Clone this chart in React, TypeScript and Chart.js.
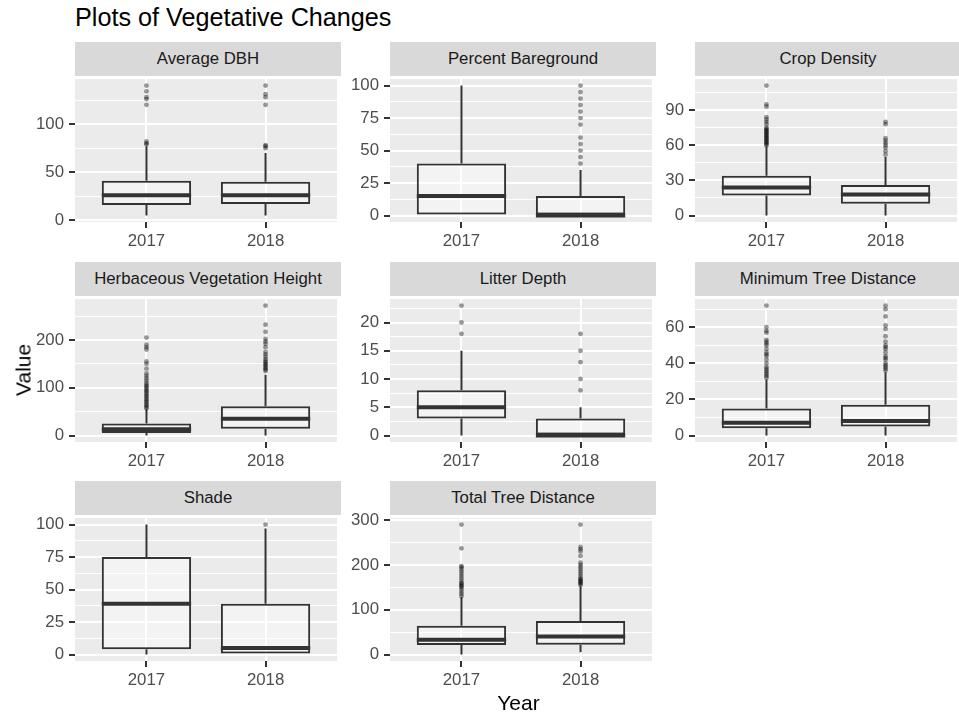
import React, { useEffect, useRef } from "react";
import { Chart, registerables } from "chart.js";

Chart.register(...registerables);

// ---------------- data ----------------
const YEARS = ["2017", "2018"];

const PANEL_TITLES = [
  "Average DBH",
  "Percent Bareground",
  "Crop Density",
  "Herbaceous Vegetation Height",
  "Litter Depth",
  "Minimum Tree Distance",
  "Shade",
  "Total Tree Distance",
];

// five-number summaries: [lower whisker, Q1, median, Q3, upper whisker]
const DBH_2017 = [5, 16, 26, 41, 77];
const DBH_2018 = [5, 17, 26, 40, 70];
const DBH_OUT_2017 = [79, 80, 82, 120, 126, 128, 134, 140];
const DBH_OUT_2018 = [75, 77, 78, 120, 128, 131, 140];

const BARE_2017 = [0, 0, 15, 40, 100];
const BARE_2018 = [0, 0, 0, 15, 35];
const BARE_OUT_2017: number[] = [];
const BARE_OUT_2018 = [40, 45, 50, 55, 60, 70, 75, 80, 85, 90, 95, 100];

const CROP_2017 = [0, 17, 24, 34, 59];
const CROP_2018 = [0, 10, 18, 26, 50];
const CROP_OUT_2017 = [60, 61, 62, 63, 64, 65, 66, 67, 68, 69, 70, 71, 72, 73, 74, 75, 78, 80, 82, 84, 93, 95, 111];
const CROP_OUT_2018 = [52, 55, 58, 60, 62, 64, 66, 78, 80];

const HERB_2017 = [0, 5, 13, 25, 55];
const HERB_2018 = [0, 14, 35, 61, 127];
const HERB_OUT_2017 = [57, 60, 63, 66, 70, 73, 76, 80, 83, 86, 90, 93, 96, 100, 103, 106, 110, 115, 120, 125, 130, 140, 150, 155, 180, 185, 190, 205];
const HERB_OUT_2018 = [135, 138, 141, 144, 147, 150, 153, 156, 160, 165, 170, 175, 185, 192, 197, 202, 217, 232, 272];

const LITTER_2017 = [0, 3, 5, 8, 15];
const LITTER_2018 = [0, 0, 0, 3, 5];
const LITTER_OUT_2017 = [18, 20, 23];
const LITTER_OUT_2018 = [8, 10, 13, 15, 18];

const MINTREE_2017 = [0, 4, 7, 15, 31];
const MINTREE_2018 = [0, 5, 8, 17, 35];
const MINTREE_OUT_2017 = [32, 33, 34, 35, 36, 37, 38, 40, 42, 44, 45, 46, 48, 50, 51, 52, 53, 57, 58, 60, 72];
const MINTREE_OUT_2018 = [36, 37, 38, 39, 40, 42, 43, 44, 46, 48, 49, 50, 52, 55, 59, 61, 66, 70, 72];

const SHADE_2017 = [0, 4, 39, 75, 100];
const SHADE_2018 = [0, 0, 5, 39, 97];
const SHADE_OUT_2017: number[] = [];
const SHADE_OUT_2018 = [100];

const TOTAL_2017 = [0, 21, 33, 64, 128];
const TOTAL_2018 = [5, 22, 40, 75, 152];
const TOTAL_OUT_2017 = [130, 135, 140, 145, 150, 152, 155, 158, 160, 165, 170, 175, 180, 185, 190, 195, 197, 237, 290];
const TOTAL_OUT_2018 = [155, 158, 160, 163, 165, 168, 170, 175, 180, 185, 190, 195, 200, 205, 220, 230, 235, 240, 290];

// y-axis tick labels (major breaks)
const DBH_BREAKS = [0, 50, 100];
const BARE_BREAKS = [0, 25, 50, 75, 100];
const CROP_BREAKS = [0, 30, 60, 90];
const HERB_BREAKS = [0, 100, 200];
const LITTER_BREAKS = [0, 5, 10, 15, 20];
const MINTREE_BREAKS = [0, 20, 40, 60];
const SHADE_BREAKS = [0, 25, 50, 75, 100];
const TOTAL_BREAKS = [0, 100, 200, 300];

const PANELS = [
  { title: PANEL_TITLES[0], stats: [DBH_2017, DBH_2018], out: [DBH_OUT_2017, DBH_OUT_2018], breaks: DBH_BREAKS },
  { title: PANEL_TITLES[1], stats: [BARE_2017, BARE_2018], out: [BARE_OUT_2017, BARE_OUT_2018], breaks: BARE_BREAKS },
  { title: PANEL_TITLES[2], stats: [CROP_2017, CROP_2018], out: [CROP_OUT_2017, CROP_OUT_2018], breaks: CROP_BREAKS },
  { title: PANEL_TITLES[3], stats: [HERB_2017, HERB_2018], out: [HERB_OUT_2017, HERB_OUT_2018], breaks: HERB_BREAKS },
  { title: PANEL_TITLES[4], stats: [LITTER_2017, LITTER_2018], out: [LITTER_OUT_2017, LITTER_OUT_2018], breaks: LITTER_BREAKS },
  { title: PANEL_TITLES[5], stats: [MINTREE_2017, MINTREE_2018], out: [MINTREE_OUT_2017, MINTREE_OUT_2018], breaks: MINTREE_BREAKS },
  { title: PANEL_TITLES[6], stats: [SHADE_2017, SHADE_2018], out: [SHADE_OUT_2017, SHADE_OUT_2018], breaks: SHADE_BREAKS },
  { title: PANEL_TITLES[7], stats: [TOTAL_2017, TOTAL_2018], out: [TOTAL_OUT_2017, TOTAL_OUT_2018], breaks: TOTAL_BREAKS },
];

// ---------------- layout / style ----------------
const FONT = '"Liberation Sans", Arial, Helvetica, sans-serif';
const COL_LEFT = [75, 390, 695];
const STRIP_TOP = [42, 262, 481];
const STRIP_H = 34;
const PANEL_W = 266;
const PANEL_H = 146;
const AX = 72; // room for y tick labels
const PADT = 12;
const BX = 34; // room for x tick labels
const CW = AX + PANEL_W;
const CH = PADT + PANEL_H + BX;
const BOX_HALF = 0.375;
const TICK_FONT = { family: FONT, size: 16.8 };
const TICK_COLOR = "#4D4D4D";
const LINE_COLOR = "#333333";

const panelBg = {
  id: "panelBg",
  beforeDraw(chart: any) {
    const { ctx, chartArea } = chart;
    ctx.save();
    ctx.fillStyle = "#EBEBEB";
    ctx.fillRect(chartArea.left, chartArea.top, chartArea.right - chartArea.left, chartArea.bottom - chartArea.top);
    ctx.restore();
  },
};

function buildConfig(p: any) {
  const all: number[] = [];
  p.stats.forEach((s: number[]) => all.push(...s));
  p.out.forEach((o: number[]) => all.push(...o));
  const lo = Math.min(...all);
  const hi = Math.max(...all);
  const pad = (hi - lo) * 0.05;
  const yMin = lo - pad;
  const yMax = hi + pad;
  const majors: number[] = p.breaks;
  const step = majors[1] - majors[0];
  const minors: number[] = [];
  for (let v = majors[0] - step / 2; v <= majors[majors.length - 1] + step / 2 + 1e-9; v += step) {
    if (v >= yMin && v <= yMax) minors.push(v);
  }
  const allTicks = [...majors, ...minors].sort((a, b) => a - b);
  const isMajor = (v: number) => majors.some((m) => Math.abs(m - v) < 1e-9);

  const whisk: any[] = [];
  const med: any[] = [];
  const box: any[] = [];
  const pts: any[] = [];
  p.stats.forEach((s: number[], i: number) => {
    const x = i + 1;
    whisk.push({ x, y: s[0] }, { x, y: s[1] }, { x, y: null }, { x, y: s[3] }, { x, y: s[4] }, { x, y: null });
    med.push({ x: x - BOX_HALF, y: s[2] }, { x: x + BOX_HALF, y: s[2] }, { x, y: null });
    box.push({ x, y: [s[1], s[3]] });
    p.out[i].forEach((v: number) => pts.push({ x, y: v }));
  });

  return {
    type: "scatter",
    data: {
      datasets: [
        {
          type: "line",
          data: whisk,
          borderColor: LINE_COLOR,
          borderWidth: 2,
          pointRadius: 0,
          spanGaps: false,
          order: 4,
        },
        {
          type: "bar",
          data: box,
          backgroundColor: "rgba(255,255,255,0.4)",
          borderColor: LINE_COLOR,
          borderWidth: 2,
          borderSkipped: false,
          barPercentage: BOX_HALF * 2,
          categoryPercentage: 1,
          order: 3,
        },
        {
          type: "line",
          data: med,
          borderColor: LINE_COLOR,
          borderWidth: 4,
          borderCapStyle: "butt",
          pointRadius: 0,
          spanGaps: false,
          order: 2,
        },
        {
          type: "scatter",
          data: pts,
          backgroundColor: "rgba(0,0,0,0.4)",
          borderWidth: 0,
          pointRadius: 2.4,
          order: 1,
        },
      ],
    },
    options: {
      animation: false,
      responsive: false,
      devicePixelRatio: 1,
      events: [],
      layout: { padding: { top: PADT, left: 0, right: 0, bottom: 0 } },
      plugins: { legend: { display: false }, tooltip: { enabled: false }, title: { display: false } },
      scales: {
        x: {
          type: "linear",
          min: 0.4,
          max: 2.6,
          offset: false,
          afterFit: (s: any) => {
            s.height = BX;
          },
          afterBuildTicks: (s: any) => {
            s.ticks = YEARS.map((_, i) => ({ value: i + 1 }));
          },
          ticks: {
            autoSkip: false,
            maxRotation: 0,
            minRotation: 0,
            padding: 3,
            color: TICK_COLOR,
            font: TICK_FONT,
            callback: (v: number) => YEARS[Math.round(v) - 1] ?? "",
          },
          grid: {
            color: "#FFFFFF",
            lineWidth: 2,
            drawTicks: true,
            tickLength: 6,
            tickColor: LINE_COLOR,
            tickWidth: 2,
            offset: false,
          },
          border: { display: false },
        },
        y: {
          type: "linear",
          min: yMin,
          max: yMax,
          afterFit: (s: any) => {
            s.width = AX;
          },
          afterBuildTicks: (s: any) => {
            s.ticks = allTicks.map((v) => ({ value: v }));
          },
          ticks: {
            autoSkip: false,
            padding: 5,
            color: TICK_COLOR,
            font: TICK_FONT,
            callback: (v: number) => (isMajor(v) ? String(v) : ""),
          },
          grid: {
            color: "#FFFFFF",
            lineWidth: (c: any) => (c.tick && isMajor(c.tick.value) ? 2 : 1),
            drawTicks: true,
            tickLength: 6,
            tickColor: (c: any) => (c.tick && isMajor(c.tick.value) ? LINE_COLOR : "rgba(0,0,0,0)"),
            tickWidth: 2,
          },
          border: { display: false },
        },
      },
    },
    plugins: [panelBg],
  };
}

function Panel({ idx }: { idx: number }) {
  const ref = useRef<HTMLCanvasElement | null>(null);
  const col = idx % 3;
  const row = Math.floor(idx / 3);
  const left = COL_LEFT[col];
  const stripTop = STRIP_TOP[row];
  const panelTop = stripTop + STRIP_H;
  useEffect(() => {
    if (!ref.current) return;
    const chart = new Chart(ref.current, buildConfig(PANELS[idx]) as any);
    return () => chart.destroy();
  }, [idx]);
  return (
    <>
      <canvas
        ref={ref}
        width={CW}
        height={CH}
        style={{ position: "absolute", left: left - AX, top: panelTop - PADT, width: CW, height: CH }}
      />
      <div
        style={{
          position: "absolute",
          left,
          top: stripTop,
          width: PANEL_W,
          height: STRIP_H,
          background: "#D9D9D9",
          color: "#1A1A1A",
          fontSize: 16.8,
          display: "flex",
          alignItems: "center",
          justifyContent: "center",
          whiteSpace: "nowrap",
        }}
      >
        {PANELS[idx].title}
      </div>
    </>
  );
}

export default function App() {
  return (
    <div
      style={{
        position: "fixed",
        left: 0,
        top: 0,
        width: 959,
        height: 715,
        overflow: "hidden",
        background: "#FFFFFF",
        fontFamily: FONT,
      }}
    >
      <div
        style={{
          position: "absolute",
          left: 75,
          top: 5,
          fontSize: 25.2,
          lineHeight: 1,
          color: "#000",
          whiteSpace: "nowrap",
        }}
      >
        Plots of Vegetative Changes
      </div>
      {PANELS.map((_, i) => (
        <Panel key={i} idx={i} />
      ))}
      <div
        style={{
          position: "absolute",
          left: 22.5,
          top: 370,
          fontSize: 21,
          lineHeight: 1,
          color: "#000",
          whiteSpace: "nowrap",
          transform: "translate(-50%, -50%) rotate(-90deg)",
        }}
      >
        Value
      </div>
      <div
        style={{
          position: "absolute",
          left: 518.5,
          top: 692,
          fontSize: 21,
          lineHeight: 1,
          color: "#000",
          whiteSpace: "nowrap",
          transform: "translateX(-50%)",
        }}
      >
        Year
      </div>
    </div>
  );
}
